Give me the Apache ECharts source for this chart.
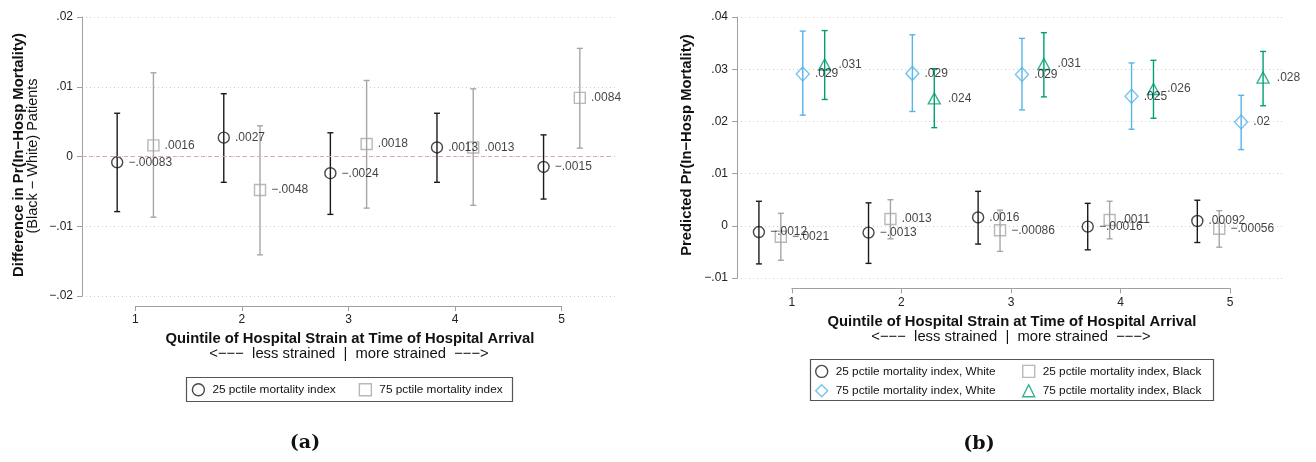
<!DOCTYPE html>
<html>
<head>
<meta charset="utf-8">
<script src="https://cdn.jsdelivr.net/npm/echarts@6/dist/echarts.min.js"></script>
<style>
html,body{margin:0;padding:0;background:#fff;}
#chart{width:1316px;height:462px;}
</style>
</head>
<body>
<div id="chart"></div>
<script>
// ---------------- DATA ----------------
const quintiles = [1, 2, 3, 4, 5];
const yTicksA = [-0.02, -0.01, 0, 0.01, 0.02];
const yTicksB = [-0.01, 0, 0.01, 0.02, 0.03, 0.04];

// Panel (a): difference Black - White
const a25Est = [-0.00083, 0.0027, -0.0024, 0.0013, -0.0015];
const a25Lo  = [-0.0079, -0.0037, -0.0083, -0.0037, -0.0061];
const a25Hi  = [0.0062, 0.0090, 0.0034, 0.0062, 0.0031];
const a75Est = [0.0016, -0.0048, 0.0018, 0.0013, 0.0084];
const a75Lo  = [-0.0087, -0.0141, -0.0074, -0.0070, 0.0012];
const a75Hi  = [0.0120, 0.0044, 0.0109, 0.0097, 0.0155];

// Panel (b): predicted probabilities
const bW25Est = [-0.0012, -0.0013, 0.0016, -0.00016, 0.00092];
const bW25Lo  = [-0.0073, -0.0072, -0.0035, -0.0046, -0.0032];
const bW25Hi  = [0.0047, 0.0044, 0.0066, 0.0043, 0.0049];
const bB25Est = [-0.0021, 0.0013, -0.00086, 0.0011, -0.00056];
const bB25Lo  = [-0.0066, -0.0025, -0.0049, -0.0025, -0.0041];
const bB25Hi  = [0.0024, 0.0050, 0.0030, 0.0047, 0.0029];
const bW75Est = [0.0291, 0.0292, 0.0290, 0.0248, 0.0199];
const bW75Lo  = [0.0212, 0.0219, 0.0222, 0.0185, 0.0146];
const bW75Hi  = [0.0373, 0.0366, 0.0359, 0.0312, 0.0250];
const bB75Est = [0.0309, 0.0244, 0.0310, 0.0262, 0.0284];
const bB75Lo  = [0.0242, 0.0188, 0.0247, 0.0206, 0.0230];
const bB75Hi  = [0.0374, 0.0301, 0.0370, 0.0317, 0.0334];

const nameA25 = '25 pctile mortality index';
const nameA75 = '75 pctile mortality index';
const nameBW25 = '25 pctile mortality index, White';
const nameBB25 = '25 pctile mortality index, Black';
const nameBW75 = '75 pctile mortality index, White';
const nameBB75 = '75 pctile mortality index, Black';

// ---------------- LAYOUT / STYLE ----------------
const FONT = '"Liberation Sans", Arial, Helvetica, sans-serif';
const AX = '#a0a0a0';
const BLACK = '#1a1a1a', GRAY = '#a6a6a6', SKY = '#56B4E9', GREEN = '#009E73';
const dodgeA = [-0.17, 0.17];
const dodgeB = [-0.3, -0.1, 0.1, 0.3];

const gA = {left: 82, top: 17, width: 533, height: 279};
const gB = {left: 737, top: 17, width: 548, height: 261};

function fmtLabel(v){
  const s = parseFloat(v.toPrecision(2));
  if (s === 0) return '0';
  return (s < 0 ? '\u2212' : '') + Math.abs(s).toString().replace(/^0/, '');
}
function fmtTick(v){
  const r = Math.round(v * 100) / 100;
  if (r === 0) return '0';
  return (r < 0 ? '\u2212' : '') + Math.abs(r).toString().replace(/^0/, '');
}

function pts(est, off){ return quintiles.map((q, i) => [q + off, est[i]]); }
function bars(lo, hi, off){ return quintiles.map((q, i) => [q + off, lo[i], hi[i]]); }

function errBarRender(color){
  return function(params, api){
    const x = api.value(0);
    const p1 = api.coord([x, api.value(1)]);
    const p2 = api.coord([x, api.value(2)]);
    const c = 3;
    const st = {stroke: color, lineWidth: 1.4};
    return {type: 'group', children: [
      {type: 'line', shape: {x1: p1[0], y1: p1[1], x2: p2[0], y2: p2[1]}, style: st},
      {type: 'line', shape: {x1: p1[0]-c, y1: p1[1], x2: p1[0]+c, y2: p1[1]}, style: st},
      {type: 'line', shape: {x1: p2[0]-c, y1: p2[1], x2: p2[0]+c, y2: p2[1]}, style: st}
    ]};
  };
}

function errSeries(lo, hi, off, color, xi, yi, extra){
  return Object.assign({
    type: 'custom', xAxisIndex: xi, yAxisIndex: yi, silent: true, z: 2,
    renderItem: errBarRender(color),
    encode: {x: 0, y: [1, 2]},
    data: bars(lo, hi, off)
  }, extra || {});
}

function markerSeries(name, est, off, symbol, size, color, xi, yi, labDist){
  return {
    type: 'scatter', name: name, xAxisIndex: xi, yAxisIndex: yi, z: 3,
    symbol: symbol, symbolSize: size,
    itemStyle: {color: 'rgba(255,255,255,0)', borderColor: color, borderWidth: 1.4},
    label: {show: true, position: 'right', distance: labDist,
      formatter: p => fmtLabel(p.value[1]),
      fontFamily: FONT, fontSize: 12, color: '#111'},
    emphasis: {disabled: true},
    data: pts(est, off)
  };
}

function valueYAxis(grid, min, max){
  return {
    type: 'value', gridIndex: grid, min: min, max: max, interval: 0.01,
    axisLine: {show: true, lineStyle: {color: AX, width: 1}},
    axisTick: {show: true, length: 5, lineStyle: {color: AX}},
    axisLabel: {formatter: fmtTick, fontFamily: FONT, fontSize: 12, color: '#222', margin: 9},
    splitLine: {show: true, lineStyle: {color: '#cfcfcf', type: [1, 3], width: 1}}
  };
}
function tickXAxis(grid){
  return {
    type: 'value', gridIndex: grid, min: 1, max: 5, interval: 1,
    axisLine: {show: true, onZero: false, lineStyle: {color: AX, width: 1}},
    axisTick: {show: true, length: 5, lineStyle: {color: AX}},
    axisLabel: {fontFamily: FONT, fontSize: 12, color: '#222', margin: 8},
    splitLine: {show: false}
  };
}
function hiddenX(grid){ return {type: 'value', gridIndex: grid, min: 0.5, max: 5.5, show: false, splitLine: {show: false}}; }
function hiddenY(grid){ return {type: 'value', gridIndex: grid, min: 0, max: 1, show: false, splitLine: {show: false}}; }

function legendItem(name, icon, color){
  return {name: name, icon: icon, itemStyle: {color: 'rgba(255,255,255,0)', borderColor: color, borderWidth: 1.4}};
}
const legendText = {fontFamily: FONT, fontSize: 11.8, color: '#111', padding: [0, 0, 0, 3]};

function txt(x, y, text, size, weight, rot, family){
  return {type: 'text', x: x, y: y, rotation: rot || 0, silent: true,
    style: {text: text, fontFamily: family || FONT, fontSize: size, fontWeight: weight || 'normal',
      fill: '#111', align: 'center', verticalAlign: 'middle', textAlign: 'center', textVerticalAlign: 'middle'}};
}

const option = {
  animation: false,
  backgroundColor: '#fff',
  grid: [
    {left: gA.left, top: gA.top, width: gA.width, height: gA.height},
    {left: gA.left + gA.width * 0.1, top: 300, width: gA.width * 0.8, height: 6},
    {left: gB.left, top: gB.top, width: gB.width, height: gB.height},
    {left: gB.left + gB.width * 0.1, top: 282.3, width: gB.width * 0.8, height: 6}
  ],
  xAxis: [hiddenX(0), tickXAxis(1), hiddenX(2), tickXAxis(3)],
  yAxis: [valueYAxis(0, -0.02, 0.02), hiddenY(1), valueYAxis(2, -0.01, 0.04), hiddenY(3)],
  legend: [
    {left: 191.7, top: 383, padding: 0, orient: 'horizontal', itemWidth: 12, itemHeight: 12, itemGap: 23,
      textStyle: legendText, selectedMode: false,
      data: [legendItem(nameA25, 'circle', BLACK), legendItem(nameA75, 'rect', GRAY)]},
    {left: 815, top: 364.7, padding: 0, orient: 'vertical', itemWidth: 12, itemHeight: 12, itemGap: 6,
      textStyle: legendText, selectedMode: false,
      data: [legendItem(nameBW25, 'circle', BLACK), legendItem(nameBW75, 'diamond', SKY)]},
    {left: 1022, top: 364.7, padding: 0, orient: 'vertical', itemWidth: 12, itemHeight: 12, itemGap: 6,
      textStyle: legendText, selectedMode: false,
      data: [legendItem(nameBB25, 'rect', GRAY), legendItem(nameBB75, 'triangle', GREEN)]}
  ],
  graphic: [
    {type: 'rect', shape: {x: 186.5, y: 377.5, width: 326, height: 24}, style: {fill: 'none', stroke: '#555', lineWidth: 1.2}, silent: true},
    {type: 'rect', shape: {x: 810.5, y: 359.5, width: 403, height: 41}, style: {fill: 'none', stroke: '#555', lineWidth: 1.2}, silent: true},
    txt(19, 155, 'Difference in Pr(In\u2212Hosp Mortality)', 14.8, 'bold', Math.PI / 2),
    txt(33, 156, '(Black \u2212 White) Patients', 14.5, 'normal', Math.PI / 2),
    txt(687, 145, 'Predicted Pr(In\u2212Hosp Mortality)', 14.8, 'bold', Math.PI / 2),
    txt(350, 339.3, 'Quintile of Hospital Strain at Time of Hospital Arrival', 14.8, 'bold'),
    txt(349, 354.3, '<\u2212\u2212\u2212  less strained  |  more strained  \u2212\u2212\u2212>', 14.8, 'normal'),
    txt(1012, 321.7, 'Quintile of Hospital Strain at Time of Hospital Arrival', 14.8, 'bold'),
    txt(1011, 336.5, '<\u2212\u2212\u2212  less strained  |  more strained  \u2212\u2212\u2212>', 14.8, 'normal'),
    txt(305, 443, '(a)', 19, 'bold', 0, '"DejaVu Serif", "Liberation Serif", serif'),
    txt(979, 444, '(b)', 19, 'bold', 0, '"DejaVu Serif", "Liberation Serif", serif')
  ],
  series: [
    // Panel (a)
    errSeries(a25Lo, a25Hi, dodgeA[0], BLACK, 0, 0, {
      markLine: {silent: true, symbol: 'none', label: {show: false},
        lineStyle: {color: '#e49fcf', type: [4, 3], width: 1.2},
        data: [{yAxis: 0}]}
    }),
    errSeries(a75Lo, a75Hi, dodgeA[1], GRAY, 0, 0),
    markerSeries(nameA25, a25Est, dodgeA[0], 'circle', 11, BLACK, 0, 0, 5),
    markerSeries(nameA75, a75Est, dodgeA[1], 'rect', 11, GRAY, 0, 0, 5),
    // Panel (b)
    errSeries(bW25Lo, bW25Hi, dodgeB[0], BLACK, 2, 2),
    errSeries(bB25Lo, bB25Hi, dodgeB[1], GRAY, 2, 2),
    errSeries(bW75Lo, bW75Hi, dodgeB[2], SKY, 2, 2),
    errSeries(bB75Lo, bB75Hi, dodgeB[3], GREEN, 2, 2),
    markerSeries(nameBW25, bW25Est, dodgeB[0], 'circle', 11, BLACK, 2, 2, 5),
    markerSeries(nameBB25, bB25Est, dodgeB[1], 'rect', 11, GRAY, 2, 2, 5),
    markerSeries(nameBW75, bW75Est, dodgeB[2], 'diamond', [13, 14], SKY, 2, 2, 5),
    markerSeries(nameBB75, bB75Est, dodgeB[3], 'triangle', [12, 11], GREEN, 2, 2, 7)
  ]
};

const chart = echarts.init(document.getElementById('chart'), null, {renderer: 'canvas'});
chart.setOption(option);
</script>
</body>
</html>
